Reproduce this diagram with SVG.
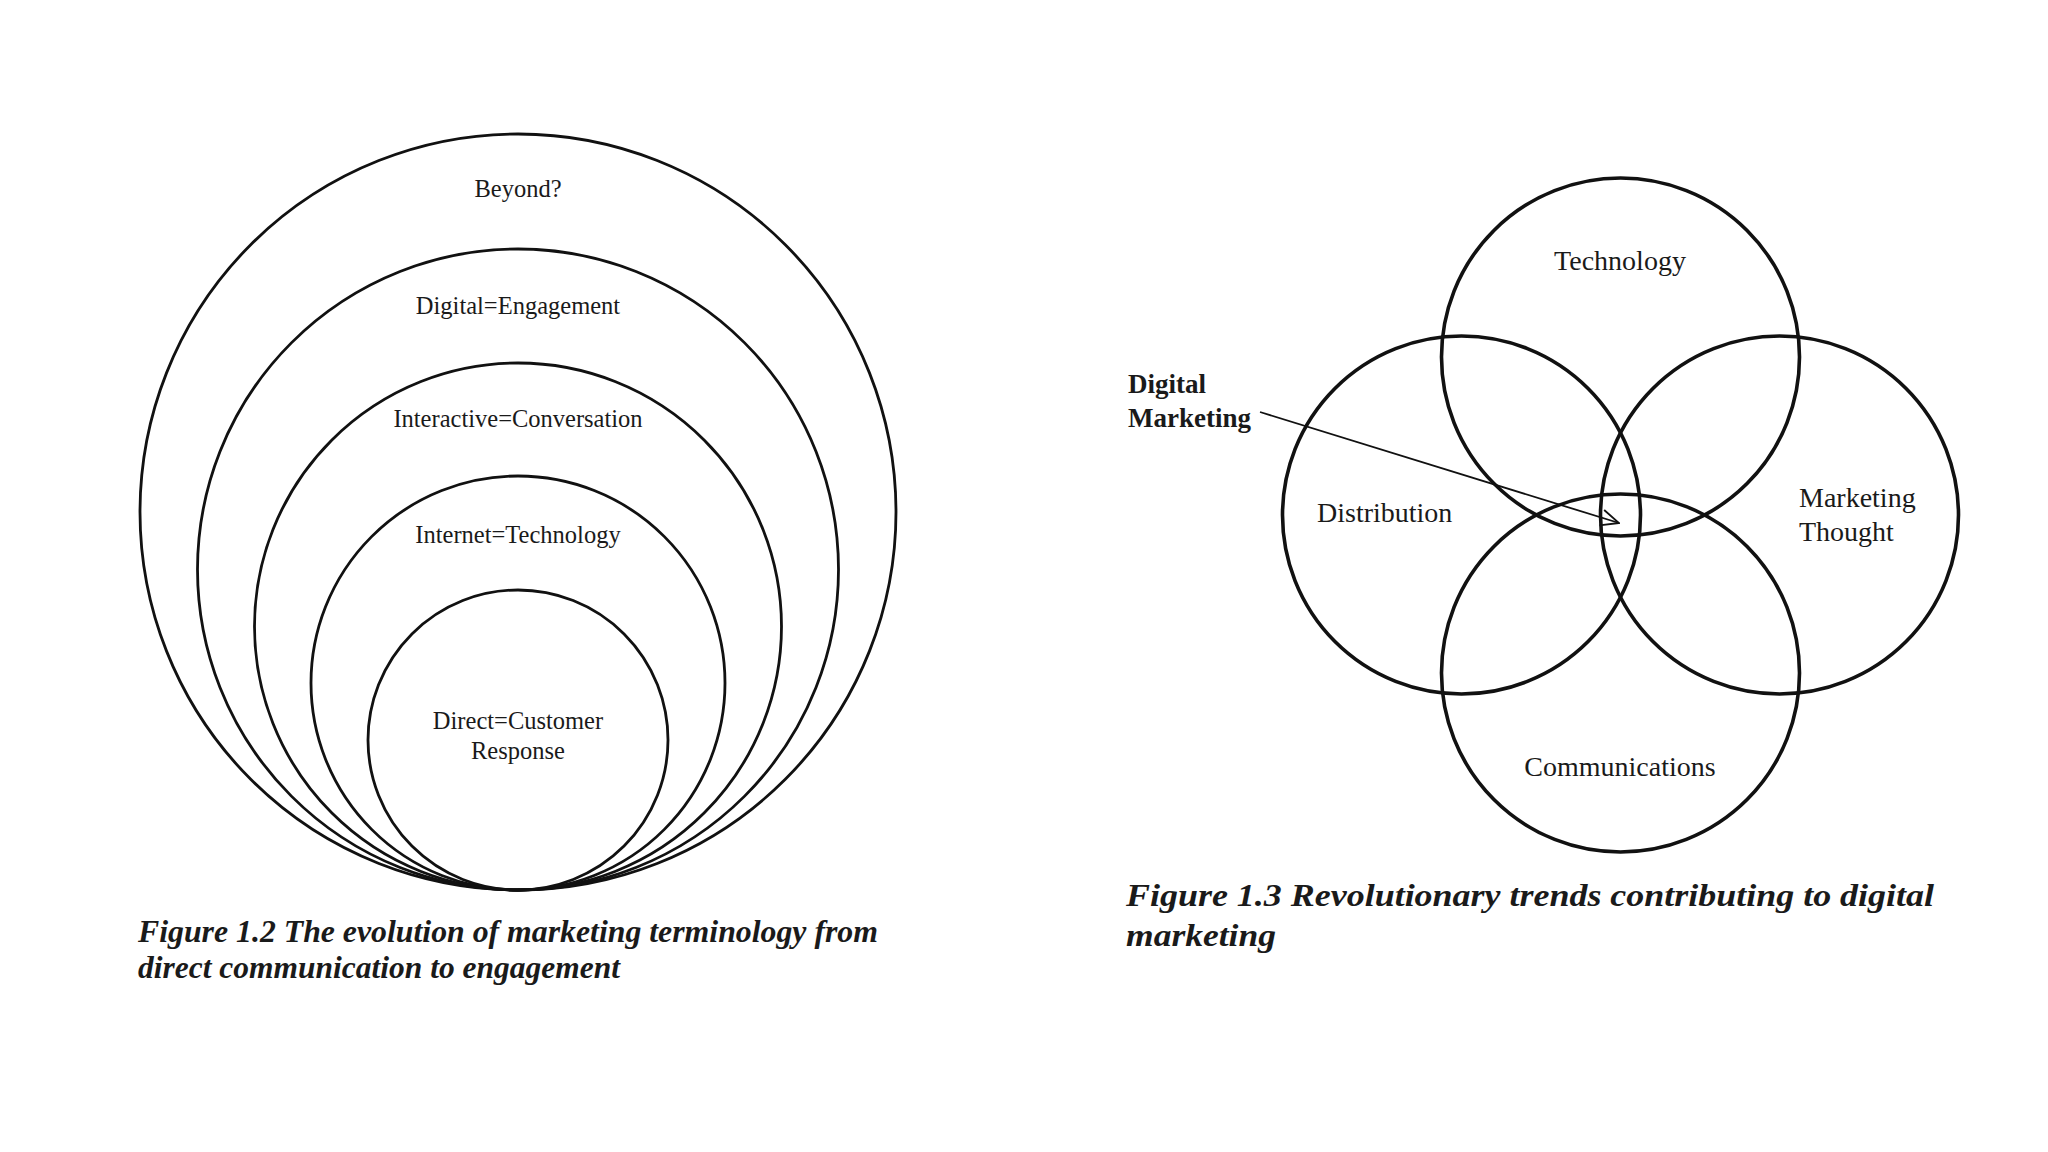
<svg xmlns="http://www.w3.org/2000/svg" width="2048" height="1152" viewBox="0 0 2048 1152">
<style>
.c1{fill:none;stroke:#111;stroke-width:2.8}
.c2{fill:none;stroke:#111;stroke-width:3.6}
.lbl{font-family:"Liberation Serif","DejaVu Serif",serif;font-size:24.5px;fill:#1a1a1a;text-anchor:middle}
.lbl2{font-family:"Liberation Serif","DejaVu Serif",serif;font-size:28px;fill:#1a1a1a}
.bold{font-family:"Liberation Serif","DejaVu Serif",serif;font-size:27px;font-weight:bold;fill:#1a1a1a}
.cap{font-family:"Liberation Serif","DejaVu Serif",serif;font-size:31px;font-weight:bold;font-style:italic;fill:#1a1a1a}
</style>
<defs>
<marker id="arr" viewBox="0 0 20 20" refX="19" refY="10" markerWidth="20" markerHeight="20" markerUnits="userSpaceOnUse" orient="auto">
<path d="M1,2 L19,10 L1,18" fill="none" stroke="#111" stroke-width="1.8"/>
</marker>
</defs>
<rect width="2048" height="1152" fill="#fff"/>
<g id="fig12">
<g id="beyond"><circle class="c1" cx="518" cy="512" r="378"/><text class="lbl" x="518" y="197">Beyond?</text></g>
<g id="digital"><circle class="c1" cx="518" cy="569.5" r="320.5"/><text class="lbl" x="518" y="314">Digital=Engagement</text></g>
<g id="interactive"><circle class="c1" cx="518" cy="626.5" r="263.5"/><text class="lbl" x="518" y="427">Interactive=Conversation</text></g>
<g id="internet"><circle class="c1" cx="518" cy="683" r="207"/><text class="lbl" x="518" y="543">Internet=Technology</text></g>
<g id="direct"><circle class="c1" cx="518" cy="740" r="150"/><text class="lbl" x="518" y="729">Direct=Customer</text><text class="lbl" x="518" y="759">Response</text></g>
<g id="caption12">
<text class="cap" x="138" y="942" textLength="740" lengthAdjust="spacingAndGlyphs">Figure 1.2  The evolution of marketing terminology from</text>
<text class="cap" x="138" y="978" textLength="482" lengthAdjust="spacingAndGlyphs">direct communication to engagement</text>
</g>
</g>
<g id="fig13">
<g id="technology"><circle class="c2" cx="1620.5" cy="357" r="179"/><text class="lbl2" x="1620" y="270" text-anchor="middle">Technology</text></g>
<g id="distribution"><circle class="c2" cx="1461.5" cy="515" r="179"/><text class="lbl2" x="1317" y="522">Distribution</text></g>
<g id="marketingthought"><circle class="c2" cx="1779.5" cy="515" r="179"/><text class="lbl2" x="1799" y="507">Marketing</text><text class="lbl2" x="1799" y="541">Thought</text></g>
<g id="communications"><circle class="c2" cx="1620.5" cy="673" r="179"/><text class="lbl2" x="1620" y="776" text-anchor="middle">Communications</text></g>
<g id="digitalmarketing"><text class="bold" x="1128" y="393">Digital</text><text class="bold" x="1128" y="427">Marketing</text></g>
<g id="caption13">
<text class="cap" x="1126" y="906" textLength="808" lengthAdjust="spacingAndGlyphs">Figure 1.3  Revolutionary trends contributing to digital</text>
<text class="cap" x="1126" y="946" textLength="150" lengthAdjust="spacingAndGlyphs">marketing</text>
</g>
</g>
<g id="connectors">
<line x1="1260" y1="412" x2="1619" y2="523" stroke="#111" stroke-width="1.8" marker-end="url(#arr)"/>
</g>
</svg>
